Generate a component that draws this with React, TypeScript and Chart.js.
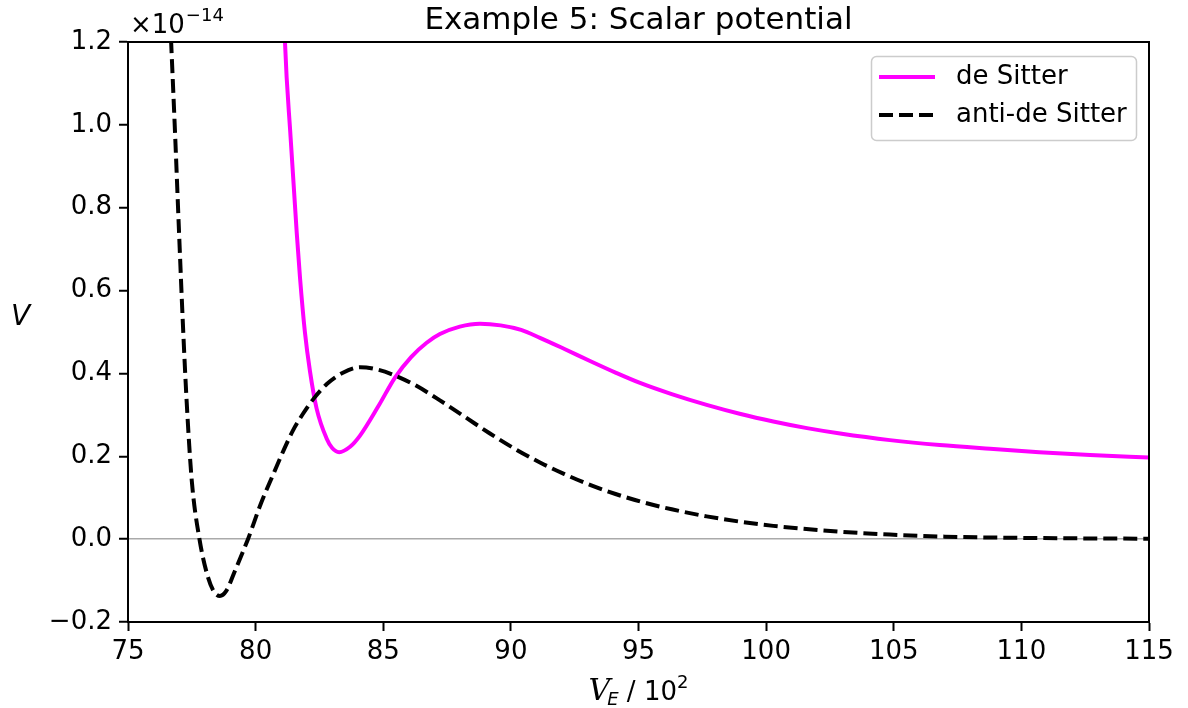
import { useEffect, useRef } from "react";
import { Chart, registerables } from "chart.js";

Chart.register(...registerables);

const TITLE = "Example 5: Scalar potential";
const SERIES_NAMES = ["de Sitter", "anti-de Sitter"];
const X_MIN = 75;
const X_MAX = 115;
const X_STEP = 5;
const Y_MIN = -0.2;
const Y_MAX = 1.2;
const Y_STEP = 0.2;
const Y_LABEL = "V";
const OFFSET_BASE = "×10";
const OFFSET_EXP = "−14";

// de Sitter (solid magenta), V in units of 1e-14
const dsX = [81.05, 81.15, 81.37, 81.61, 81.74, 81.93, 82.13, 82.39, 82.78, 83.0, 83.27, 83.7, 84.09, 84.8, 85.46, 86.1, 86.7, 87.22, 88.0, 88.79, 89.6, 90.4, 91.14, 92.1, 93.1, 94.1, 95.06, 96.3, 97.67, 99.0, 100.28, 101.6, 102.9, 104.85, 106.8, 108.77, 110.7, 112.69, 115];
const dsV = [1.42, 1.2, 0.97, 0.74, 0.63, 0.5, 0.405, 0.315, 0.243, 0.22, 0.21, 0.223, 0.25, 0.32, 0.39, 0.44, 0.474, 0.495, 0.513, 0.52, 0.516, 0.505, 0.486, 0.459, 0.43, 0.402, 0.377, 0.35, 0.324, 0.302, 0.284, 0.268, 0.255, 0.239, 0.227, 0.218, 0.21, 0.203, 0.197];

// anti-de Sitter (dashed black)
const adsX = [76.55, 76.69, 76.85, 77.0, 77.15, 77.3, 77.5, 77.8, 78.1, 78.35, 78.6, 78.85, 79.2, 79.7, 80.2, 80.68, 81.1, 81.46, 81.85, 82.26, 82.8, 83.4, 84.1, 84.8, 85.46, 86.3, 87.22, 88.2, 89.18, 90.1, 91.14, 92.1, 93.1, 94.1, 95.06, 96.3, 97.67, 99.0, 100.28, 102.9, 104.85, 107, 110, 115];
const adsV = [1.4, 1.2, 0.97, 0.74, 0.52, 0.33, 0.14, 0.0, -0.085, -0.125, -0.137, -0.125, -0.075, 0.0, 0.085, 0.155, 0.215, 0.262, 0.302, 0.338, 0.375, 0.401, 0.415, 0.409, 0.395, 0.37, 0.335, 0.295, 0.255, 0.22, 0.185, 0.157, 0.131, 0.109, 0.091, 0.072, 0.055, 0.042, 0.032, 0.018, 0.011, 0.006, 0.003, 0.001];

const MAGENTA = "#ff00ff";
const FONT = '"DejaVu Sans"';
const LINE_W = 4;
const DASH = [14, 6];

const decor = {
  id: "decor",
  afterDraw(chart: any) {
    const ctx = chart.ctx as CanvasRenderingContext2D;
    const a = chart.chartArea;
    ctx.save();
    // frame
    ctx.strokeStyle = "#000";
    ctx.lineWidth = 2;
    ctx.strokeRect(a.left, a.top, a.right - a.left, a.bottom - a.top);

    ctx.fillStyle = "#000";
    // title
    ctx.font = `31px ${FONT}`;
    ctx.textAlign = "center";
    ctx.textBaseline = "alphabetic";
    ctx.fillText(TITLE, (a.left + a.right) / 2, 29);

    // offset text
    ctx.textAlign = "left";
    ctx.font = `26px ${FONT}`;
    ctx.fillText(OFFSET_BASE, a.left + 2, 33);
    const wb = ctx.measureText(OFFSET_BASE).width;
    ctx.font = `18px ${FONT}`;
    ctx.fillText(OFFSET_EXP, a.left + 2 + wb + 1, 21);

    // y label
    ctx.font = `italic 28px ${FONT}`;
    ctx.fillText(Y_LABEL, 11, 325);

    // x label: V_E / 10^2
    const cx = (a.left + a.right) / 2;
    const parts = [
      { t: "V", f: `italic 30px "DejaVu Serif"`, dy: 0, k: 0 },
      { t: "E", f: `italic 18px ${FONT}`, dy: 5, k: -3 },
      { t: " / 10", f: `26px ${FONT}`, dy: 0, k: 0 },
      { t: "2", f: `18px ${FONT}`, dy: -12, k: 0 },
    ];
    let total = 0;
    const widths: number[] = [];
    for (const p of parts) {
      ctx.font = p.f;
      const w = ctx.measureText(p.t).width;
      widths.push(w);
      total += w + p.k;
    }
    let x = cx - total / 2;
    const base = 700;
    parts.forEach((p, i) => {
      ctx.font = p.f;
      ctx.fillText(p.t, x + p.k, base + p.dy);
      x += widths[i] + p.k;
    });

    // legend
    const lx = 871.5, ly = 56.5, lw = 265, lh = 84, r = 5;
    ctx.beginPath();
    ctx.moveTo(lx + r, ly);
    ctx.lineTo(lx + lw - r, ly);
    ctx.arcTo(lx + lw, ly, lx + lw, ly + r, r);
    ctx.lineTo(lx + lw, ly + lh - r);
    ctx.arcTo(lx + lw, ly + lh, lx + lw - r, ly + lh, r);
    ctx.lineTo(lx + r, ly + lh);
    ctx.arcTo(lx, ly + lh, lx, ly + lh - r, r);
    ctx.lineTo(lx, ly + r);
    ctx.arcTo(lx, ly, lx + r, ly, r);
    ctx.closePath();
    ctx.fillStyle = "rgba(255,255,255,0.8)";
    ctx.fill();
    ctx.strokeStyle = "#cccccc";
    ctx.lineWidth = 1.5;
    ctx.stroke();

    const rows = [
      { y: 77, color: MAGENTA, dash: [] as number[], name: SERIES_NAMES[0] },
      { y: 115, color: "#000", dash: DASH, name: SERIES_NAMES[1] },
    ];
    for (const row of rows) {
      ctx.beginPath();
      ctx.setLineDash(row.dash);
      ctx.strokeStyle = row.color;
      ctx.lineWidth = LINE_W;
      ctx.moveTo(879, row.y);
      ctx.lineTo(935, row.y);
      ctx.stroke();
      ctx.setLineDash([]);
      ctx.fillStyle = "#000";
      ctx.font = `26px ${FONT}`;
      ctx.textBaseline = "middle";
      ctx.fillText(row.name, 956, row.y);
    }
    ctx.restore();
  },
};

export default function App() {
  const ref = useRef<HTMLCanvasElement | null>(null);
  useEffect(() => {
    if (!ref.current) return;
    const chart = new Chart(ref.current, {
      type: "line",
      data: {
        datasets: [
          {
            label: SERIES_NAMES[0],
            data: dsX.map((x, i) => ({ x, y: dsV[i] })),
            borderColor: MAGENTA,
            borderWidth: LINE_W,
            pointRadius: 0,
            cubicInterpolationMode: "monotone",
            fill: false,
            order: 1,
            clip: 0 as any,
          },
          {
            label: SERIES_NAMES[1],
            data: adsX.map((x, i) => ({ x, y: adsV[i] })),
            borderColor: "#000",
            borderWidth: LINE_W,
            borderDash: DASH,
            pointRadius: 0,
            cubicInterpolationMode: "monotone",
            fill: false,
            order: 0,
            clip: 0 as any,
          },
        ],
      },
      options: {
        animation: false,
        responsive: false,
        devicePixelRatio: 1,
        layout: { padding: { top: 42, right: 39, left: 0, bottom: 0 } },
        plugins: { legend: { display: false }, title: { display: false }, tooltip: { enabled: false } },
        scales: {
          x: {
            type: "linear",
            min: X_MIN,
            max: X_MAX,
            afterFit: (s: any) => { s.height = 86; },
            border: { display: true, color: "#000", width: 2 },
            grid: { display: true, color: "rgba(0,0,0,0)", drawTicks: true, tickLength: 9, tickColor: "#000", tickWidth: 2 },
            ticks: {
              stepSize: X_STEP,
              autoSkip: false,
              maxRotation: 0,
              padding: 6,
              color: "#000",
              font: { family: "DejaVu Sans", size: 26 },
              callback: (v: any) => String(Math.round(Number(v))),
            },
          },
          y: {
            type: "linear",
            min: Y_MIN,
            max: Y_MAX,
            afterFit: (s: any) => { s.width = 128; },
            border: { display: true, color: "#000", width: 2 },
            grid: {
              display: true,
              color: (c: any) => (c.tick && Math.abs(c.tick.value) < 1e-9 ? "#aaaaaa" : "rgba(0,0,0,0)"),
              lineWidth: 1.5,
              drawTicks: true,
              tickLength: 9,
              tickColor: "#000",
              tickWidth: 2,
            },
            ticks: {
              stepSize: Y_STEP,
              padding: 7,
              color: "#000",
              font: { family: "DejaVu Sans", size: 26 },
              callback: (v: any) => {
                const n = Number(v);
                const s = Math.abs(n).toFixed(1);
                return n < -1e-9 ? "\u2212" + s : s;
              },
            },
          },
        },
      },
      plugins: [decor],
    });
    return () => chart.destroy();
  }, []);
  return (
    <div style={{ position: "fixed", left: 0, top: 0, width: 1188, height: 708, background: "#fff" }}>
      <canvas ref={ref} width={1188} height={708} style={{ width: 1188, height: 708 }} />
    </div>
  );
}
